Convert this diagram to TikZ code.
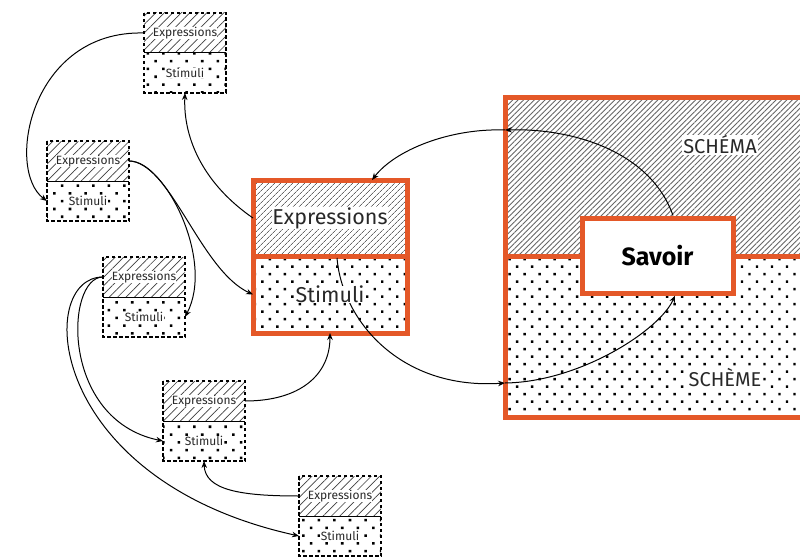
\documentclass[tikz,border=0pt]{standalone}
\usepackage{fontspec}
\setmainfont{Fira Sans}
\usetikzlibrary{patterns.meta,arrows.meta,calc}
\definecolor{org}{RGB}{228,88,40}
\definecolor{txt}{RGB}{40,40,40}
\begin{document}
\begin{tikzpicture}[x=1pt,y=-1pt,
  half/.style={rectangle, inner sep=0pt, outer sep=0pt, anchor=north west},
  sexp/.style={half, minimum width=82pt, minimum height=40pt,
    pattern={Lines[angle=45,distance=6pt,line width=0.7pt]}, pattern color=black!75},
  sstim/.style={half, minimum width=82pt, minimum height=40pt,
    pattern={Dots[angle=45,distance=11pt,radius=1.8pt]}, pattern color=black},
  cexp/.style={half, minimum width=154pt, minimum height=76pt,
    pattern={Lines[angle=45,distance=4pt,line width=0.8pt]}, pattern color=black!60},
  cstim/.style={half, minimum width=154pt, minimum height=77pt,
    pattern={Dots[angle=45,distance=10.6pt,radius=1.7pt]}, pattern color=black},
  bexp/.style={half, minimum width=320pt, minimum height=158pt,
    pattern={Lines[angle=45,distance=3.8pt,line width=0.9pt]}, pattern color=black!60},
  bstim/.style={half, minimum width=320pt, minimum height=161pt,
    pattern={Dots[angle=45,distance=10.6pt,radius=1.7pt]}, pattern color=black},
  sborder/.style={draw=black, line width=2.6pt, dash pattern=on 3.5pt off 2.5pt},
  sdiv/.style={draw=black, line width=1pt},
  oborder/.style={draw=org, line width=5pt},
  savoirbox/.style={rectangle, draw=org, line width=5pt, fill=white,
    minimum width=151pt, minimum height=75pt, inner sep=0pt,
    font=\fontsize{25}{28}\selectfont\bfseries, text=black},
  conn/.style={draw=black, line width=1pt, -{Stealth[length=7pt,width=5.5pt]}},
  slab/.style={fill=white, inner sep=0.3pt, text=txt, font=\fontsize{12}{14}\selectfont},
  clab/.style={fill=white, inner sep=0.3pt, text=txt, font=\fontsize{21.5}{24}\selectfont},
  blab/.style={fill=white, inner sep=0.8pt, text=txt, font=\fontsize{20}{24}\selectfont},
]
\clip (0,0) rectangle (800,559);
\fill[white] (0,0) rectangle (800,559);

% small boxes
\node[sexp] (e1) at (144,13) {};
\node[sstim] (s1) at (e1.south west) {};
\node[sexp] (e2) at (47,141) {};
\node[sstim] (s2) at (e2.south west) {};
\node[sexp] (e3) at (103,257) {};
\node[sstim] (s3) at (e3.south west) {};
\node[sexp] (e4) at (163,381) {};
\node[sstim] (s4) at (e4.south west) {};
\node[sexp] (e5) at (299,476) {};
\node[sstim] (s5) at (e5.south west) {};
\foreach \i in {1,...,5}{
  \draw[sdiv] (e\i.south west) -- (e\i.south east);
  \draw[sborder] (e\i.north west) rectangle (s\i.south east);
}

% central box
\node[cexp] (ce) at (253,180) {};
\node[cstim] (cs) at (ce.south west) {};
\draw[oborder] (ce.south west) -- (ce.south east);
\draw[oborder] (ce.north west) rectangle (cs.south east);

% big box
\node[bexp] (be) at (505,98) {};
\node[bstim] (bs) at (be.south west) {};
\draw[oborder] (be.south west) -- (be.south east);
\draw[oborder] (be.north west) rectangle (bs.south east);
\node[savoirbox] (sv) at (657.5,255.5) {Savoir};

% connector end points
\coordinate (k1) at (337,258);
\coordinate (bl1) at (505,130);
\coordinate (bl2) at (505,383);
\coordinate (svt) at ($(sv.north)+(15.5,0)$);
\coordinate (svb) at ($(sv.south)+(17.5,0)$);
\coordinate (ctop) at ($(ce.north)+(42,0)$);

% connectors
\draw[conn] (e1.west) .. controls (30,30) and (5,170) .. (s2.west);
\draw[conn] (ce.west) .. controls (205,185) and (183,140) .. (s1.south);
\draw[conn] (e2.east) .. controls (165,161) and (215,260) .. (s3.east);
\draw[conn] (e2.east) .. controls (170,161) and (200,270) .. (cs.west);
\draw[conn] (e3.west) .. controls (65,277) and (60,420) .. (s4.west);
\draw[conn] (e3.west) .. controls (35,277) and (45,480) .. (s5.west);
\draw[conn] (e4.east) .. controls (300,401) and (330,375) .. (cs.south);
\draw[conn] (e5.west) .. controls (240,496) and (205,490) .. (s4.south);
\draw[conn] (k1) .. controls (342,320) and (400,390) .. (bl2);
\draw[conn] (bl2) .. controls (580,382) and (660,330) .. (svb);
\draw[conn] (svt) .. controls (650,150) and (570,128) .. (bl1);
\draw[conn] (bl1) .. controls (450,128) and (395,150) .. (ctop);

% labels
\foreach \i in {1,...,5}{
  \node[slab] (te\i) at (e\i.center) {Expressions};
  \node[slab] (ts\i) at (s\i.center) {Stimuli};
}
\node[clab] (tce) at (ce.center) {Expressions};
\node[clab] (tcs) at (cs.center) {Stimuli};
\node[blab] (tschema) at (720,145) {SCHÉMA};
\node[blab] (tscheme) at (725,378) {SCHÈME};
\end{tikzpicture}
\end{document}
